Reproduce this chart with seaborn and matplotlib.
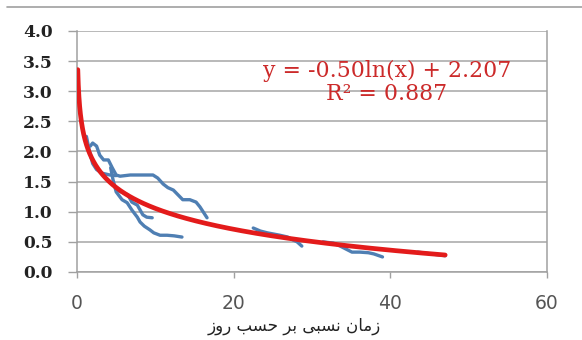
import numpy as np
import pandas as pd
import matplotlib
matplotlib.use("Agg")
import matplotlib.pyplot as plt
from matplotlib.lines import Line2D
import seaborn as sns

# ---- data ----
sA_x = [1.7, 2.0, 2.5, 2.9, 3.4, 4.0, 4.5, 5.0, 5.5, 6.8, 8.7, 9.7, 10.3, 11.0, 11.6, 12.3, 12.9, 13.5, 14.4, 15.2, 15.7, 16.2, 16.6]
sA_y = [2.09, 2.14, 2.09, 1.94, 1.86, 1.86, 1.73, 1.61, 1.59, 1.61, 1.61, 1.61, 1.56, 1.46, 1.40, 1.36, 1.28, 1.20, 1.20, 1.16, 1.08, 0.98, 0.90]
sB_x = [1.2, 1.6, 2.0, 2.5, 3.2, 4.2, 5.0]
sB_y = [2.25, 2.00, 1.80, 1.70, 1.64, 1.61, 1.60]
sC_x = [4.3, 4.6, 5.0, 5.75, 6.4, 7.0, 7.7, 8.05, 8.6, 9.3, 9.8, 10.6, 11.5, 12.4, 13.4]
sC_y = [1.73, 1.53, 1.33, 1.20, 1.15, 1.03, 0.91, 0.83, 0.76, 0.70, 0.65, 0.61, 0.61, 0.60, 0.58]
sD_x = [5.1, 6.5, 7.0, 7.7, 8.05, 8.4, 8.9, 9.6]
sD_y = [1.36, 1.28, 1.16, 1.11, 1.03, 0.95, 0.91, 0.90]
sE_x = [22.5, 23.4, 24.3, 25.9, 26.9, 27.6, 28.1, 28.7]
sE_y = [0.73, 0.68, 0.65, 0.61, 0.58, 0.53, 0.50, 0.43]
sF_x = [31.4, 32.7, 33.6, 34.5, 35.1, 36.1, 37.2, 37.9, 39.0]
sF_y = [0.50, 0.48, 0.43, 0.37, 0.33, 0.33, 0.32, 0.30, 0.25]
sG_x = [43.5, 47.0]
sG_y = [0.33, 0.27]

# trendline shown in the chart: y = a ln(x) + b
trend_a = -0.50
trend_b = 2.207
trend_xmin = 0.1
trend_xmax = 47.0

eq_text = "y = -0.50ln(x) + 2.207"
r2_text = "R\u00b2 = 0.887"
x_ticks = [0, 20, 40, 60]
y_ticks = [0.0, 0.5, 1.0, 1.5, 2.0, 2.5, 3.0, 3.5, 4.0]
# "زمان نسبی بر حسب روز" as shaped glyphs in visual order
xlabel = "\uFEAF\uFEED\uFEAD \uFE90\uFEB4\uFEA3 \uFEAE\uFE91 \uFBFD\uFE92\uFEB4\uFEE7 \uFEE5\uFE8E\uFEE3\uFEAF"

# ---- build tables ----
series = {"A": (sA_x, sA_y), "B": (sB_x, sB_y), "C": (sC_x, sC_y), "D": (sD_x, sD_y),
          "E": (sE_x, sE_y), "F": (sF_x, sF_y), "G": (sG_x, sG_y)}
rows = []
for k, (xs, ys) in series.items():
    for xv, yv in zip(xs, ys):
        rows.append({"s": k, "x": xv, "y": yv})
df = pd.DataFrame(rows)

tx = np.geomspace(trend_xmin, trend_xmax, 300)
tdf = pd.DataFrame({"x": tx, "y": trend_a * np.log(tx) + trend_b})

sns.set_theme(style="white")
plt.rcParams["font.family"] = ["DejaVu Sans"]

fig = plt.figure(figsize=(5.82, 3.40), dpi=100)
ax = fig.add_axes([77 / 582, 68 / 340, 470 / 582, 241 / 340])

blue = "#4f7fb3"
red = "#e31b1b"
sns.lineplot(data=df, x="x", y="y", units="s", estimator=None, sort=False,
             color=blue, linewidth=2.4, ax=ax, zorder=3)
sns.lineplot(data=tdf, x="x", y="y", color=red, linewidth=3.4, ax=ax, zorder=4)

ax.set_xlim(0, 60)
ax.set_ylim(0, 4)
ax.set_xticks(x_ticks)
ax.set_yticks(y_ticks)
ax.set_yticklabels([f"{v:.1f}" for v in y_ticks], fontfamily="DejaVu Serif",
                   fontweight="bold", fontsize=12.3, color="#222222")
ax.set_xticklabels([str(v) for v in x_ticks], fontfamily="DejaVu Sans",
                   fontsize=13.5, color="#555555")
ax.grid(axis="y", color="#a6a6a6", linewidth=1.1)
ax.grid(axis="x", visible=False)
ax.tick_params(axis="y", length=6.5, width=1.0, color="#a0a0a0", pad=11, direction="out", left=True)
ax.tick_params(axis="x", length=4.5, width=1.0, color="#a0a0a0", pad=11, direction="out", bottom=True)
for side in ["left", "bottom", "right"]:
    ax.spines[side].set_visible(True)
    ax.spines[side].set_color("#a0a0a0")
    ax.spines[side].set_linewidth(1.1)
ax.spines["top"].set_visible(False)
ax.set_ylabel("")
ax.set_xlabel("")

fig.text(387 / 582, 1 - 71 / 340, eq_text, ha="center", va="center", color="#cc2a2a",
         fontfamily="DejaVu Serif", fontsize=15.8)
fig.text(387 / 582, 1 - 94 / 340, r2_text, ha="center", va="center", color="#cc2a2a",
         fontfamily="DejaVu Serif", fontsize=15.8)
fig.text(294 / 582, 1 - 326 / 340, xlabel, ha="center", va="center", color="#222222",
         fontfamily=["DejaVu Sans"], fontsize=12)

fig.add_artist(Line2D([7 / 582, 1.0], [1 - 7 / 340, 1 - 7 / 340], color="#a0a0a0",
                      linewidth=1.2, transform=fig.transFigure))

fig.savefig("out.png", dpi=100, facecolor="white")
